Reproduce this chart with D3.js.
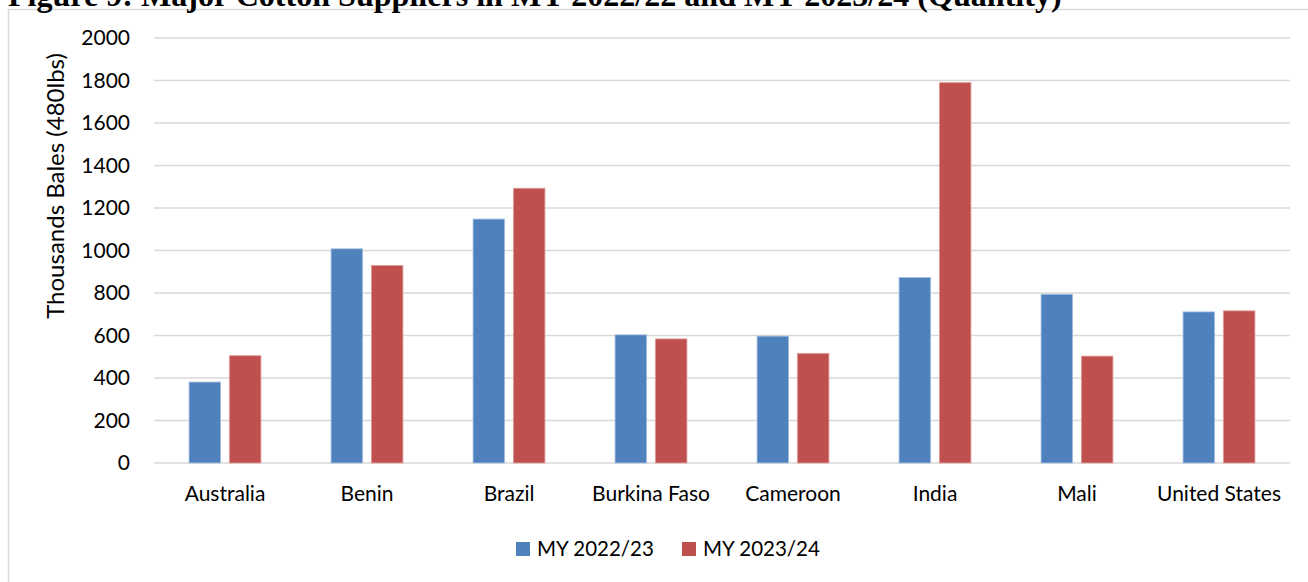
<!DOCTYPE html>
<html>
<head>
<meta charset="utf-8">
<script src="https://cdn.jsdelivr.net/npm/d3@7"></script>
<style>
  html, body { margin: 0; padding: 0; background: #fff; }
  svg { display: block; }
</style>
</head>
<body>
<svg id="chart" width="1308" height="582"></svg>
<script>
const categories = ["Australia", "Benin", "Brazil", "Burkina Faso", "Cameroon", "India", "Mali", "United States"];
const seriesNames = ["MY 2022/23", "MY 2023/24"];
const my2022 = [381, 1008, 1148, 603, 597, 873, 794, 711];
const my2023 = [505, 930, 1293, 584, 516, 1790, 503, 716];
const yTicks = [0, 200, 400, 600, 800, 1000, 1200, 1400, 1600, 1800, 2000];
const colors = ["#4F81BD", "#C0504D"];
const titleText = "Figure 9: Major Cotton Suppliers in MY 2022/22 and MY 2023/24 (Quantity)";
const yTitle = "Thousands Bales (480lbs)";

const svg = d3.select("#chart");
const font = "Lato, 'Open Sans', sans-serif";

// chart frame
svg.append("rect").attr("x", 8.5).attr("y", 9.5).attr("width", 1400).attr("height", 600)
  .attr("fill", "none").attr("stroke", "#d9d9d9").attr("stroke-width", 1.5);

// title (cut off at top)
const title = svg.append("text").attr("x", 8).attr("y", 6)
  .attr("font-family", "'Liberation Serif', 'Times New Roman', serif")
  .attr("font-weight", "bold").attr("font-size", 30).attr("fill", "#000")
  .text(titleText);
const tw = title.node().getComputedTextLength();
title.attr("font-size", 30 * 1054 / tw);

const plotLeft = 154, plotRight = 1290, plotTop = 38, plotBottom = 463;

const x0 = d3.scaleBand().domain(categories).range([plotLeft, plotRight]).padding(0);
const x1 = d3.scaleBand().domain(seriesNames).range([0, x0.bandwidth()])
  .paddingInner(0.216).paddingOuter(0.87);
const y = d3.scaleLinear().domain([0, 2000]).range([plotBottom, plotTop]);

// gridlines
svg.append("g").selectAll("line").data(yTicks).join("line")
  .attr("x1", plotLeft).attr("x2", plotRight)
  .attr("y1", d => y(d)).attr("y2", d => y(d))
  .attr("stroke", "#d9d9d9").attr("stroke-width", 1.5);

// y axis labels
const yAxis = d3.axisLeft(y).tickValues(yTicks).tickSize(0).tickPadding(0).tickFormat(d3.format("d"));
const gy = svg.append("g").attr("transform", `translate(${plotLeft - 24},0)`).call(yAxis);
gy.select(".domain").remove();
gy.selectAll("text").attr("font-family", font).attr("font-size", 21).attr("fill", "#000");

// y title
svg.append("text")
  .attr("transform", `translate(64,186) rotate(-90)`)
  .attr("text-anchor", "middle")
  .attr("font-family", font).attr("font-size", 24).attr("fill", "#000")
  .text(yTitle);

// bars
const rows = categories.map((c, i) => ({ cat: c, vals: [my2022[i], my2023[i]] }));
const groups = svg.append("g").selectAll("g").data(rows).join("g")
  .attr("transform", d => `translate(${x0(d.cat)},0)`);
groups.selectAll("rect").data(d => d.vals.map((v, j) => ({ s: seriesNames[j], v, j })))
  .join("rect")
  .attr("x", d => x1(d.s))
  .attr("width", x1.bandwidth())
  .attr("y", d => y(d.v))
  .attr("height", d => y(0) - y(d.v))
  .attr("fill", d => colors[d.j])
  .attr("stroke", d => d.j === 0 ? "#a7c0e0" : "#e0a09e")
  .attr("stroke-width", 0.8);

// x axis labels
const xAxis = d3.axisBottom(x0).tickSize(0).tickPadding(0);
const gx = svg.append("g").attr("transform", `translate(0,${plotBottom})`).call(xAxis);
gx.select(".domain").remove();
gx.selectAll("text").attr("font-family", font).attr("font-size", 21).attr("fill", "#000")
  .attr("dy", null).attr("y", 38);

// legend
const legendX = [516, 682];
const leg = svg.append("g").selectAll("g").data(seriesNames).join("g")
  .attr("transform", (d, i) => `translate(${legendX[i]},542)`);
leg.append("rect").attr("width", 14).attr("height", 14).attr("fill", (d, i) => colors[i]);
leg.append("text").attr("x", 21).attr("y", 14)
  .attr("font-family", font).attr("font-size", 20.5).attr("fill", "#000")
  .text(d => d);
</script>
</body>
</html>
